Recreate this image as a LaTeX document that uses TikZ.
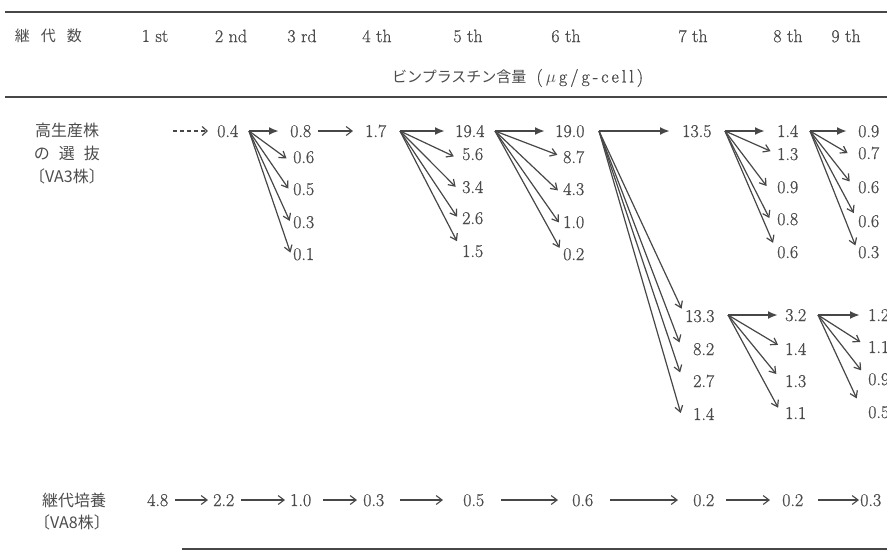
\documentclass[tikz,border=0pt]{standalone}
\usepackage{fontspec}
\newfontfamily\cjk{Noto Sans CJK JP}
\newfontfamily\numfont{Latin Modern Roman}[FakeBold=0.8]
\usetikzlibrary{arrows.meta}
\definecolor{ink}{HTML}{474747}
\definecolor{txt}{HTML}{4C4C4C}
\begin{document}
\begin{tikzpicture}[x=1pt,y=-1pt,
 val/.style={anchor=west, inner sep=0pt, text height=12pt, text depth=0pt, font=\numfont\fontsize{18}{20}\selectfont, text=txt},
 hdr/.style={inner sep=0pt, font=\numfont\fontsize{18}{20}\selectfont, text=txt},
 jp/.style={inner sep=0pt, font=\fontsize{16}{18}\selectfont\cjk, text=txt},
 rulebar/.style={draw=ink, line width=2.6pt},
 thickarr/.style={draw=ink, line width=2.4pt, -{Latex[length=10pt,width=8pt]}},
 diagarr/.style={draw=ink, line width=1.2pt, -{Straight Barb[length=6pt,width=8pt]}},
 thinarr/.style={draw=ink, line width=1.1pt, -{Straight Barb[length=6pt,width=9pt]}},
 dasharr/.style={draw=ink, line width=1.2pt, dash pattern=on 4pt off 3pt, -{Straight Barb[length=5pt,width=9pt]}},
]
\useasboundingbox (0,0) rectangle (887,552);
\fill[white] (0,0) rectangle (887,552);

% rules
\draw[rulebar] (5,12) -- (887,12);
\draw[draw=ink, line width=1.8pt] (5,97) -- (887,97);
\draw[rulebar] (182,549) -- (887,549);

% header
\node[jp, font=\fontsize{15}{18}\selectfont\cjk] (hk) at (48.5,36) {\makebox[67pt][s]{継\hfil 代\hfil 数}};
\node[hdr] (h1) at (155,36) {1 st};
\node[hdr] (h2) at (231,36) {2 nd};
\node[hdr] (h3) at (302,36) {3 rd};
\node[hdr] (h4) at (377,36) {4 th};
\node[hdr] (h5) at (468,36) {5 th};
\node[hdr] (h6) at (566,36) {6 th};
\node[hdr] (h7) at (693,36) {7 th};
\node[hdr] (h8) at (788,36) {8 th};
\node[hdr] (h9) at (846,36) {9 th};
\node[hdr, anchor=west] (unit) at (392,78) {{\cjk\fontsize{15}{18}\selectfont ビンプラスチン含量}\hspace{10pt}(\,$\mu$\,g\,/\,g\,-\,c\,e\,l\,l\,)};

% left labels
\node[jp] (la) at (67,130) {高生産株};
\node[jp] (lb) at (67,153) {\makebox[66pt][s]{の\hfil 選\hfil 抜}};
\node[jp] (lc) at (67,176) {〔VA3株〕};
\node[jp] (ld) at (74,500) {継代培養};
\node[jp] (le) at (72,522) {〔VA8株〕};

% top row values
\node[val] (v04) at (217,131) {0.4};
\node[val] (v08) at (290,131) {0.8};
\node[val] (v17) at (365,131) {1.7};
\node[val] (v194) at (455,131) {19.4};
\node[val] (v190) at (555,131) {19.0};
\node[val] (v135) at (682,131) {13.5};
\node[val] (v14a) at (777,131) {1.4};
\node[val] (v09a) at (858,131) {0.9};

\node[val] (v06) at (293,157) {0.6};
\node[val] (v05) at (293,189) {0.5};
\node[val] (v03) at (293,222) {0.3};
\node[val] (v01) at (293,254) {0.1};

\node[val] (v56) at (462,154) {5.6};
\node[val] (v34) at (462,187) {3.4};
\node[val] (v26) at (462,218) {2.6};
\node[val] (v15) at (462,251) {1.5};

\node[val] (v87) at (563,157) {8.7};
\node[val] (v43) at (563,189) {4.3};
\node[val] (v10) at (563,222) {1.0};
\node[val] (v02) at (563,254) {0.2};

\node[val] (v13a) at (777,154) {1.3};
\node[val] (v09b) at (777,187) {0.9};
\node[val] (v08b) at (777,219) {0.8};
\node[val] (v06b) at (777,252) {0.6};

\node[val] (v07) at (858,153) {0.7};
\node[val] (v06c) at (858,187) {0.6};
\node[val] (v06d) at (858,221) {0.6};
\node[val] (v03b) at (858,252) {0.3};

% lower group
\node[val] (v133) at (685,316) {13.3};
\node[val] (v82) at (693,349) {8.2};
\node[val] (v27) at (693,381) {2.7};
\node[val] (v14b) at (693,414) {1.4};
\node[val] (v32) at (785,315) {3.2};
\node[val] (v14c) at (785,349) {1.4};
\node[val] (v13b) at (785,381) {1.3};
\node[val] (v11a) at (785,413) {1.1};
\node[val] (v12) at (868,315) {1.2};
\node[val] (v11b) at (868,347) {1.1};
\node[val] (v09c) at (868,379) {0.9};
\node[val] (v05b) at (868,412) {0.5};

% fan points
\coordinate (d0) at (173,131);
\coordinate (f1) at (249,131);
\coordinate (f2) at (400,131);
\coordinate (f3) at (495,131);
\coordinate (f4) at (599,131);
\coordinate (f5) at (725,131);
\coordinate (f6) at (810,131);
\coordinate (f7) at (728,315);
\coordinate (f8) at (818,315);

% main line
\draw[dasharr, shorten >=9pt] (d0) -- (v04.west);
\draw[thickarr, shorten >=11pt] (f1) -- (v08.west);
\draw[thinarr, shorten <=7pt, shorten >=12pt] (v08.east) -- (v17.west);
\draw[thickarr, shorten >=10pt] (f2) -- (v194.west);
\draw[thickarr, shorten >=10pt] (f3) -- (v190.west);
\draw[thickarr, shorten >=12pt] (f4) -- (v135.west);
\draw[thickarr, shorten >=12pt] (f5) -- (v14a.west);
\draw[thickarr, shorten >=11pt] (f6) -- (v09a.west);
\draw[thickarr, shorten >=7pt] (f7) -- (v32.west);
\draw[thickarr, shorten >=8pt] (f8) -- (v12.west);

% fans
\draw[diagarr, shorten >=8pt] (f1) -- (v06.south west);
\draw[diagarr, shorten >=8pt] (f1) -- (v05.south west);
\draw[diagarr, shorten >=8pt] (f1) -- (v03.south west);
\draw[diagarr, shorten >=8pt] (f1) -- (v01.south west);

\draw[diagarr, shorten >=9pt] (f2) -- (v56.south west);
\draw[diagarr, shorten >=9pt] (f2) -- (v34.south west);
\draw[diagarr, shorten >=9pt] (f2) -- (v26.south west);
\draw[diagarr, shorten >=11pt] (f2) -- (v15.west);

\draw[diagarr, shorten >=6pt] (f3) -- (v87.west);
\draw[diagarr, shorten >=7pt] (f3) -- (v43.south west);
\draw[diagarr, shorten >=7pt] (f3) -- (v10.south west);
\draw[diagarr, shorten >=7pt] (f3) -- (v02.west);

\draw[diagarr, shorten >=8pt] (f4) -- (v133.west);
\draw[diagarr, shorten >=7pt] (f4) -- ([xshift=-11pt]v82.west);
\draw[diagarr, shorten >=9pt] (f4) -- ([xshift=-10pt]v27.west);
\draw[diagarr, shorten >=1pt] (f4) -- ([xshift=-12pt]v14b.west);

\draw[diagarr, shorten >=7pt] (f5) -- (v13a.west);
\draw[diagarr, shorten >=9pt] (f5) -- ([xshift=-5pt]v09b.south west);
\draw[diagarr, shorten >=8pt] (f5) -- ([xshift=-4pt]v08b.south west);
\draw[diagarr, shorten >=10pt] (f5) -- (v06b.west);

\draw[diagarr, shorten >=12pt] (f6) -- (v07.south west);
\draw[diagarr, shorten >=7pt] (f6) -- ([xshift=-4pt]v06c.west);
\draw[diagarr, shorten >=9pt] (f6) -- (v06d.west);
\draw[diagarr, shorten >=7pt] (f6) -- (v03b.west);

\draw[diagarr, shorten >=8pt] (f7) -- (v14c.west);
\draw[diagarr, shorten >=9pt] (f7) -- ([xshift=-3pt]v13b.west);
\draw[diagarr, shorten >=6pt] (f7) -- ([xshift=-4pt]v11a.west);

\draw[diagarr, shorten >=9pt] (f8) -- (v11b.west);
\draw[diagarr, shorten >=11pt] (f8) -- (v09c.west);
\draw[diagarr, shorten >=15pt] (f8) -- ([xshift=-5pt]v05b.west);

% bottom row
\node[val] (b1) at (147,500) {4.8};
\node[val] (b2) at (213,500) {2.2};
\node[val] (b3) at (290,500) {1.0};
\node[val] (b4) at (363,500) {0.3};
\node[val] (b5) at (463,500) {0.5};
\node[val] (b6) at (572,500) {0.6};
\node[val] (b7) at (693,500) {0.2};
\node[val] (b8) at (782,500) {0.2};
\node[val] (b9) at (860,500) {0.3};

\draw[thinarr, shorten <=7pt, shorten >=5pt] (b1.east) -- (b2.west);
\draw[thinarr, shorten <=7pt, shorten >=5pt] (b2.east) -- (b3.west);
\draw[thinarr, shorten <=12pt, shorten >=6pt] (b3.east) -- (b4.west);
\draw[thinarr, shorten <=16pt, shorten >=20pt] (b4.east) -- (b5.west);
\draw[thinarr, shorten <=17pt, shorten >=14pt] (b5.east) -- (b6.west);
\draw[thinarr, shorten <=17pt, shorten >=15pt] (b6.east) -- (b7.west);
\draw[thinarr, shorten <=12pt, shorten >=12pt] (b7.east) -- (b8.west);
\draw[thinarr, shorten <=15pt, shorten >=1pt] (b8.east) -- (b9.west);
\end{tikzpicture}
\end{document}
